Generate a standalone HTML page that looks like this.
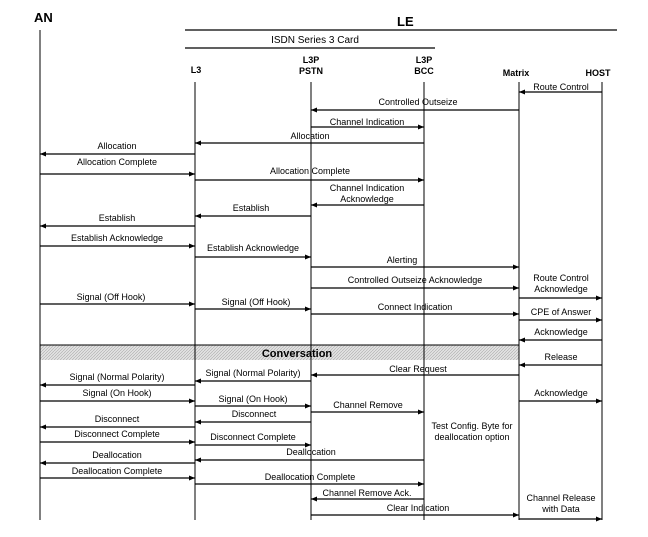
<!DOCTYPE html>
<html><head><meta charset="utf-8"><style>body{margin:0;background:#fff}svg{display:block}text{font-family:"Liberation Sans",sans-serif;font-size:9px;fill:#000}</style></head>
<body>
<svg width="648" height="537" viewBox="0 0 648 537" xmlns="http://www.w3.org/2000/svg">
<defs>
<marker id="a" markerWidth="6" markerHeight="6" refX="6" refY="3" orient="auto" markerUnits="userSpaceOnUse"><path d="M0,0.5 L6,3 L0,5.5z" fill="#000"/></marker>
<pattern id="h" width="3" height="3" patternUnits="userSpaceOnUse"><rect width="3" height="3" fill="#e2e2e2"/><path d="M0,3 L3,0" stroke="#aaa" stroke-width="0.6"/></pattern>
</defs>
<rect x="40" y="345" width="479" height="15" fill="url(#h)"/>
<line x1="40" y1="345" x2="519" y2="345" stroke="#000"/>
<text x="34" y="22" style="font-size:13px;font-weight:bold">AN</text>
<text x="397" y="26" style="font-size:13px;font-weight:bold">LE</text>
<line x1="185" y1="30" x2="617" y2="30" stroke="#000" stroke-width="1.3"/>
<text x="315" y="43" text-anchor="middle" style="font-size:10px">ISDN Series 3 Card</text>
<line x1="185" y1="48" x2="435" y2="48" stroke="#000" stroke-width="1.3"/>
<g style="font-weight:bold" text-anchor="middle">
<text x="196" y="73">L3</text>
<text x="311" y="63">L3P</text><text x="311" y="74">PSTN</text>
<text x="424" y="63">L3P</text><text x="424" y="74">BCC</text>
<text x="516" y="76">Matrix</text><text x="598" y="76">HOST</text>
</g>
<g stroke="#000" stroke-width="1">
<line x1="40" y1="30" x2="40" y2="520"/>
<line x1="195" y1="82" x2="195" y2="520"/>
<line x1="311" y1="82" x2="311" y2="520"/>
<line x1="424" y1="82" x2="424" y2="520"/>
<line x1="519" y1="82" x2="519" y2="520"/>
<line x1="602" y1="82" x2="602" y2="520"/>
</g>
<g stroke="#000" stroke-width="1.3" marker-end="url(#a)">
<line x1="602" y1="92" x2="519" y2="92"/>
<line x1="519" y1="110" x2="311" y2="110"/>
<line x1="311" y1="127" x2="424" y2="127"/>
<line x1="424" y1="143" x2="195" y2="143"/>
<line x1="195" y1="154" x2="40" y2="154"/>
<line x1="40" y1="174" x2="195" y2="174"/>
<line x1="195" y1="180" x2="424" y2="180"/>
<line x1="424" y1="205" x2="311" y2="205"/>
<line x1="311" y1="216" x2="195" y2="216"/>
<line x1="195" y1="226" x2="40" y2="226"/>
<line x1="40" y1="246" x2="195" y2="246"/>
<line x1="195" y1="257" x2="311" y2="257"/>
<line x1="311" y1="267" x2="519" y2="267"/>
<line x1="311" y1="288" x2="519" y2="288"/>
<line x1="519" y1="298" x2="602" y2="298"/>
<line x1="40" y1="304" x2="195" y2="304"/>
<line x1="195" y1="309" x2="311" y2="309"/>
<line x1="311" y1="314" x2="519" y2="314"/>
<line x1="519" y1="320" x2="602" y2="320"/>
<line x1="602" y1="340" x2="519" y2="340"/>
<line x1="602" y1="365" x2="519" y2="365"/>
<line x1="519" y1="375" x2="311" y2="375"/>
<line x1="311" y1="381" x2="195" y2="381"/>
<line x1="195" y1="385" x2="40" y2="385"/>
<line x1="519" y1="401" x2="602" y2="401"/>
<line x1="40" y1="401" x2="195" y2="401"/>
<line x1="195" y1="406" x2="311" y2="406"/>
<line x1="311" y1="412" x2="424" y2="412"/>
<line x1="311" y1="422" x2="195" y2="422"/>
<line x1="195" y1="427" x2="40" y2="427"/>
<line x1="40" y1="442" x2="195" y2="442"/>
<line x1="195" y1="445" x2="311" y2="445"/>
<line x1="424" y1="460" x2="195" y2="460"/>
<line x1="195" y1="463" x2="40" y2="463"/>
<line x1="40" y1="478" x2="195" y2="478"/>
<line x1="195" y1="484" x2="424" y2="484"/>
<line x1="424" y1="499" x2="311" y2="499"/>
<line x1="311" y1="515" x2="519" y2="515"/>
<line x1="519" y1="519" x2="602" y2="519"/>
</g>
<g text-anchor="middle">
<text x="561" y="90">Route Control</text>
<text x="418" y="105">Controlled Outseize</text>
<text x="367" y="125">Channel Indication</text>
<text x="310" y="139">Allocation</text>
<text x="117" y="149">Allocation</text>
<text x="117" y="165">Allocation Complete</text>
<text x="310" y="174">Allocation Complete</text>
<text x="367" y="191">Channel Indication</text>
<text x="367" y="202">Acknowledge</text>
<text x="251" y="211">Establish</text>
<text x="117" y="221">Establish</text>
<text x="117" y="241">Establish Acknowledge</text>
<text x="253" y="251">Establish Acknowledge</text>
<text x="402" y="263">Alerting</text>
<text x="415" y="283">Controlled Outseize Acknowledge</text>
<text x="561" y="281">Route Control</text>
<text x="561" y="292">Acknowledge</text>
<text x="111" y="300">Signal (Off Hook)</text>
<text x="256" y="305">Signal (Off Hook)</text>
<text x="415" y="310">Connect Indication</text>
<text x="561" y="315">CPE of Answer</text>
<text x="561" y="335">Acknowledge</text>
<text x="297" y="357" style="font-size:11px;font-weight:bold">Conversation</text>
<text x="561" y="360">Release</text>
<text x="418" y="372">Clear Request</text>
<text x="253" y="376">Signal (Normal Polarity)</text>
<text x="117" y="380">Signal (Normal Polarity)</text>
<text x="561" y="396">Acknowledge</text>
<text x="117" y="396">Signal (On Hook)</text>
<text x="253" y="402">Signal (On Hook)</text>
<text x="368" y="408">Channel Remove</text>
<text x="254" y="417">Disconnect</text>
<text x="117" y="422">Disconnect</text>
<text x="117" y="437">Disconnect Complete</text>
<text x="253" y="440">Disconnect Complete</text>
<text x="472" y="429">Test Config. Byte for</text>
<text x="472" y="440">deallocation option</text>
<text x="311" y="455">Deallocation</text>
<text x="117" y="458">Deallocation</text>
<text x="117" y="474">Deallocation Complete</text>
<text x="310" y="480">Deallocation Complete</text>
<text x="367" y="496">Channel Remove Ack.</text>
<text x="418" y="511">Clear Indication</text>
<text x="561" y="501">Channel Release</text>
<text x="561" y="512">with Data</text>
</g>
</svg>
</body></html>
